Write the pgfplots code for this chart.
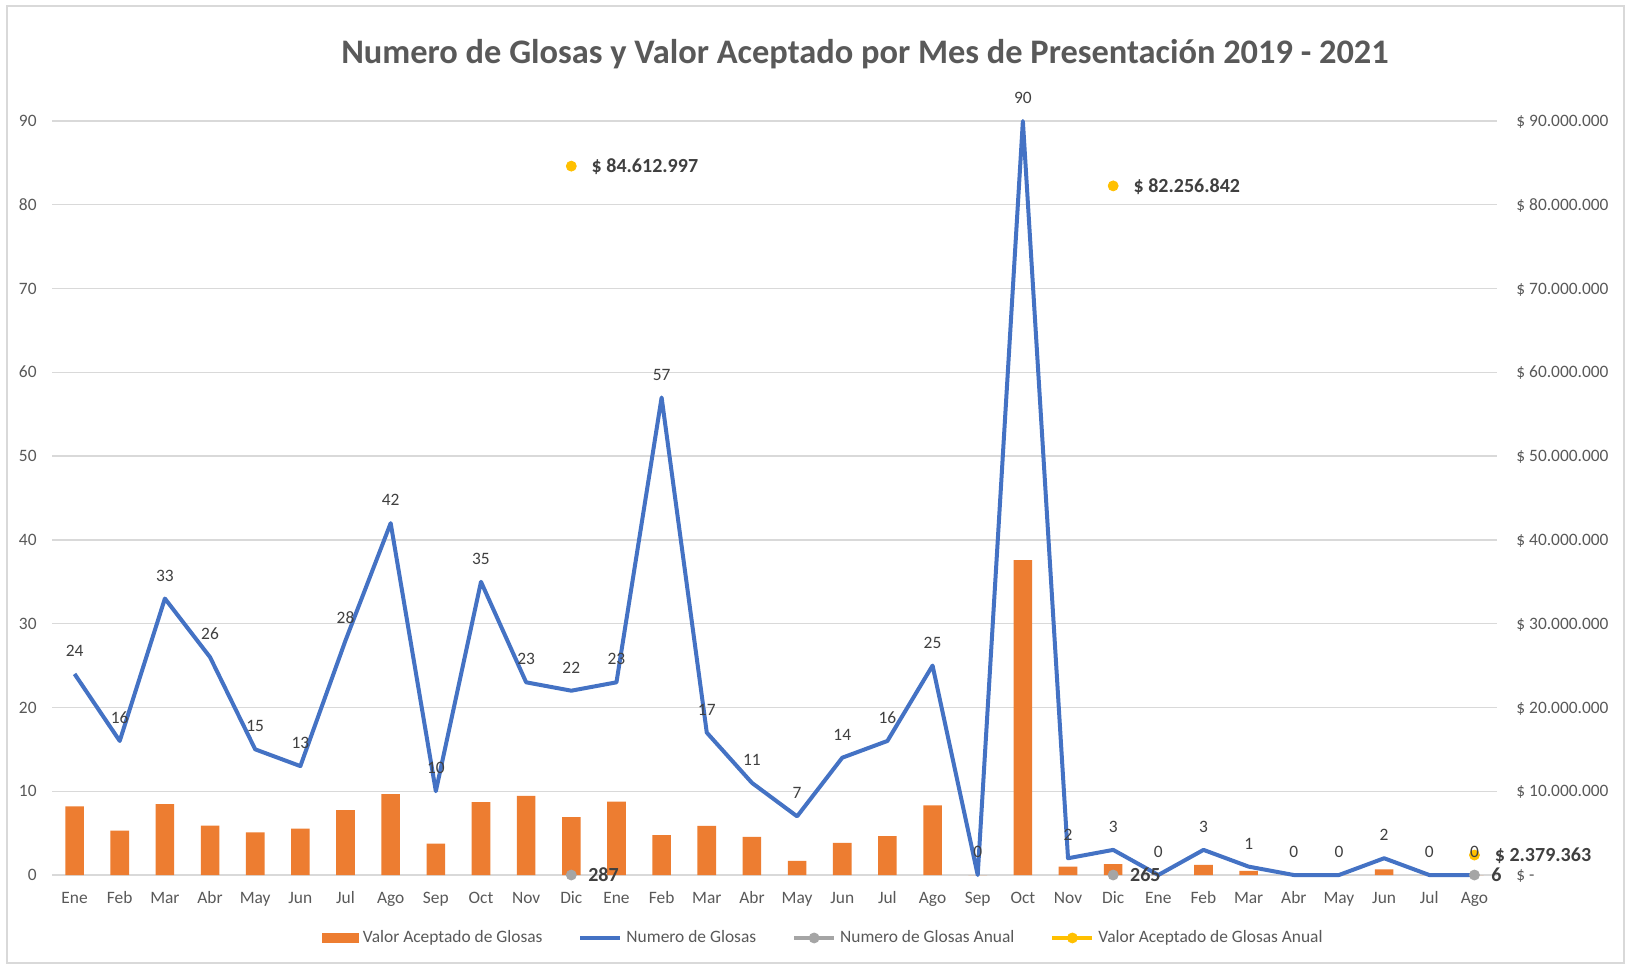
\documentclass[border=0pt]{standalone}
\usepackage{fontspec}
\setmainfont{Carlito}
\usepackage{pgfplots}
\usepackage{pgfplotstable}
\pgfplotsset{compat=1.18}
\definecolor{cbar}{HTML}{ED7D31}
\definecolor{cline}{HTML}{4472C4}
\definecolor{cgray}{HTML}{A5A5A5}
\definecolor{cyel}{HTML}{FFC000}
\definecolor{cgrid}{HTML}{D9D9D9}
\definecolor{ctick}{HTML}{595959}
\definecolor{clab}{HTML}{404040}

\pgfplotstableread{
x val num
0 8.20 24
1 5.30 16
2 8.45 33
3 5.90 26
4 5.10 15
5 5.55 13
6 7.75 28
7 9.65 42
8 3.75 10
9 8.70 35
10 9.45 23
11 6.90 22
12 8.75 23
13 4.75 57
14 5.85 17
15 4.55 11
16 1.70 7
17 3.85 14
18 4.65 16
19 8.30 25
20 0 0
21 37.60 90
22 1.00 2
23 1.30 3
24 0 0
25 1.20 3
26 0.50 1
27 0 0
28 0 0
29 0.68 2
30 0 0
31 0 0
}\datatable

\tikzset{tfont/.style={font=\fontsize{8.7}{10}\selectfont, text=ctick}}
\pgfplotsset{
  base/.style={
    at={(26pt,45.5pt)}, anchor=south west,
    width=722.5pt, height=377pt, scale only axis,
    xmin=-0.5, xmax=31.5, ymin=0, ymax=90,
    ytick={0,10,...,90},
    axis line style={draw=none}, tick style={draw=none},
    clip=false,
  },
}

\begin{document}
\begin{tikzpicture}
\useasboundingbox (0,0) rectangle (813pt,483pt);
\fill[white] (0,0) rectangle (813pt,483pt);
\draw[cgrid, line width=0.8pt] (3.5pt,1.5pt) rectangle (812pt,480pt);
\node[font=\bfseries\fontsize{17.2}{20}\selectfont, text=ctick] at (432.5pt,456pt)
  {Numero de Glosas y Valor Aceptado por Mes de Presentación 2019 - 2021};

% right axis: bars and annual values
\begin{axis}[base,
  xtick=\empty,
  ytick pos=right, yticklabel pos=right,
  yticklabels={\$ -, \$ 10.000.000, \$ 20.000.000, \$ 30.000.000, \$ 40.000.000, \$ 50.000.000, \$ 60.000.000, \$ 70.000.000, \$ 80.000.000, \$ 90.000.000},
  yticklabel style={tfont, anchor=base west, inner sep=0pt, xshift=9.5pt, yshift=-2.8pt},
  ymajorgrids, grid style={cgrid, line width=0.7pt},
]
\addplot[ybar, bar width=9.3pt, fill=cbar, draw=none] table[x=x, y=val]{\datatable};
\addplot[only marks, mark=*, mark size=2.5pt, color=cyel,
  nodes near coords, point meta=explicit symbolic,
  every node near coord/.append style={anchor=base west, inner sep=0pt, xshift=10pt, yshift=-3.3pt,
    font=\bfseries\fontsize{10}{12}\selectfont, text=clab}]
  coordinates {(11,84.612997)[\$ 84.612.997] (23,82.256842)[\$ 82.256.842] (31,2.379363)[\$ 2.379.363]};
\end{axis}

% left axis: counts
\begin{axis}[base,
  /pgf/number format/assume math mode=true,
  xtick={0,...,31},
  xticklabels={Ene,Feb,Mar,Abr,May,Jun,Jul,Ago,Sep,Oct,Nov,Dic,Ene,Feb,Mar,Abr,May,Jun,Jul,Ago,Sep,Oct,Nov,Dic,Ene,Feb,Mar,Abr,May,Jun,Jul,Ago},
  xticklabel style={tfont, anchor=base, inner sep=0pt, yshift=-14.2pt},
  ytick pos=left,
  yticklabel style={tfont, anchor=base east, inner sep=0pt, xshift=-7.5pt, yshift=-2.8pt},
  legend columns=4,
  legend style={at={(0.5345,-0.0835)}, anchor=center, draw=none, fill=none,
    tfont, inner sep=0pt,
    /tikz/every even column/.append style={column sep=16pt}},
]
\addlegendimage{legend image code/.code={\fill[cbar] (0pt,-2.4pt) rectangle (18pt,2.4pt);}}
\addlegendentry{Valor Aceptado de Glosas}
\addplot[cline, line width=2pt, line join=round,
  legend image code/.code={\draw[cline, line width=2pt] (0pt,0pt) -- (20pt,0pt);},
  nodes near coords, point meta=y,
  every node near coord/.append style={anchor=base, inner sep=0pt, yshift=8.7pt, tfont, text=clab}]
  table[x=x, y=num]{\datatable};
\addlegendentry{Numero de Glosas}
\addplot[only marks, mark=*, mark size=2.5pt, color=cgray,
  legend image code/.code={\draw[cgray, line width=2pt] (0pt,0pt) -- (20pt,0pt); \fill[cgray] (10pt,0pt) circle (2.5pt);},
  nodes near coords, point meta=explicit symbolic,
  every node near coord/.append style={anchor=base west, inner sep=0pt, xshift=8.3pt, yshift=-3.3pt,
    font=\bfseries\fontsize{10}{12}\selectfont, text=clab}]
  coordinates {(11,0)[287] (23,0)[265] (31,0)[6]};
\addlegendentry{Numero de Glosas Anual}
\addlegendimage{legend image code/.code={\draw[cyel, line width=2pt] (0pt,0pt) -- (20pt,0pt); \fill[cyel] (10pt,0pt) circle (2.5pt);}}
\addlegendentry{Valor Aceptado de Glosas Anual}
\end{axis}
\end{tikzpicture}
\end{document}
